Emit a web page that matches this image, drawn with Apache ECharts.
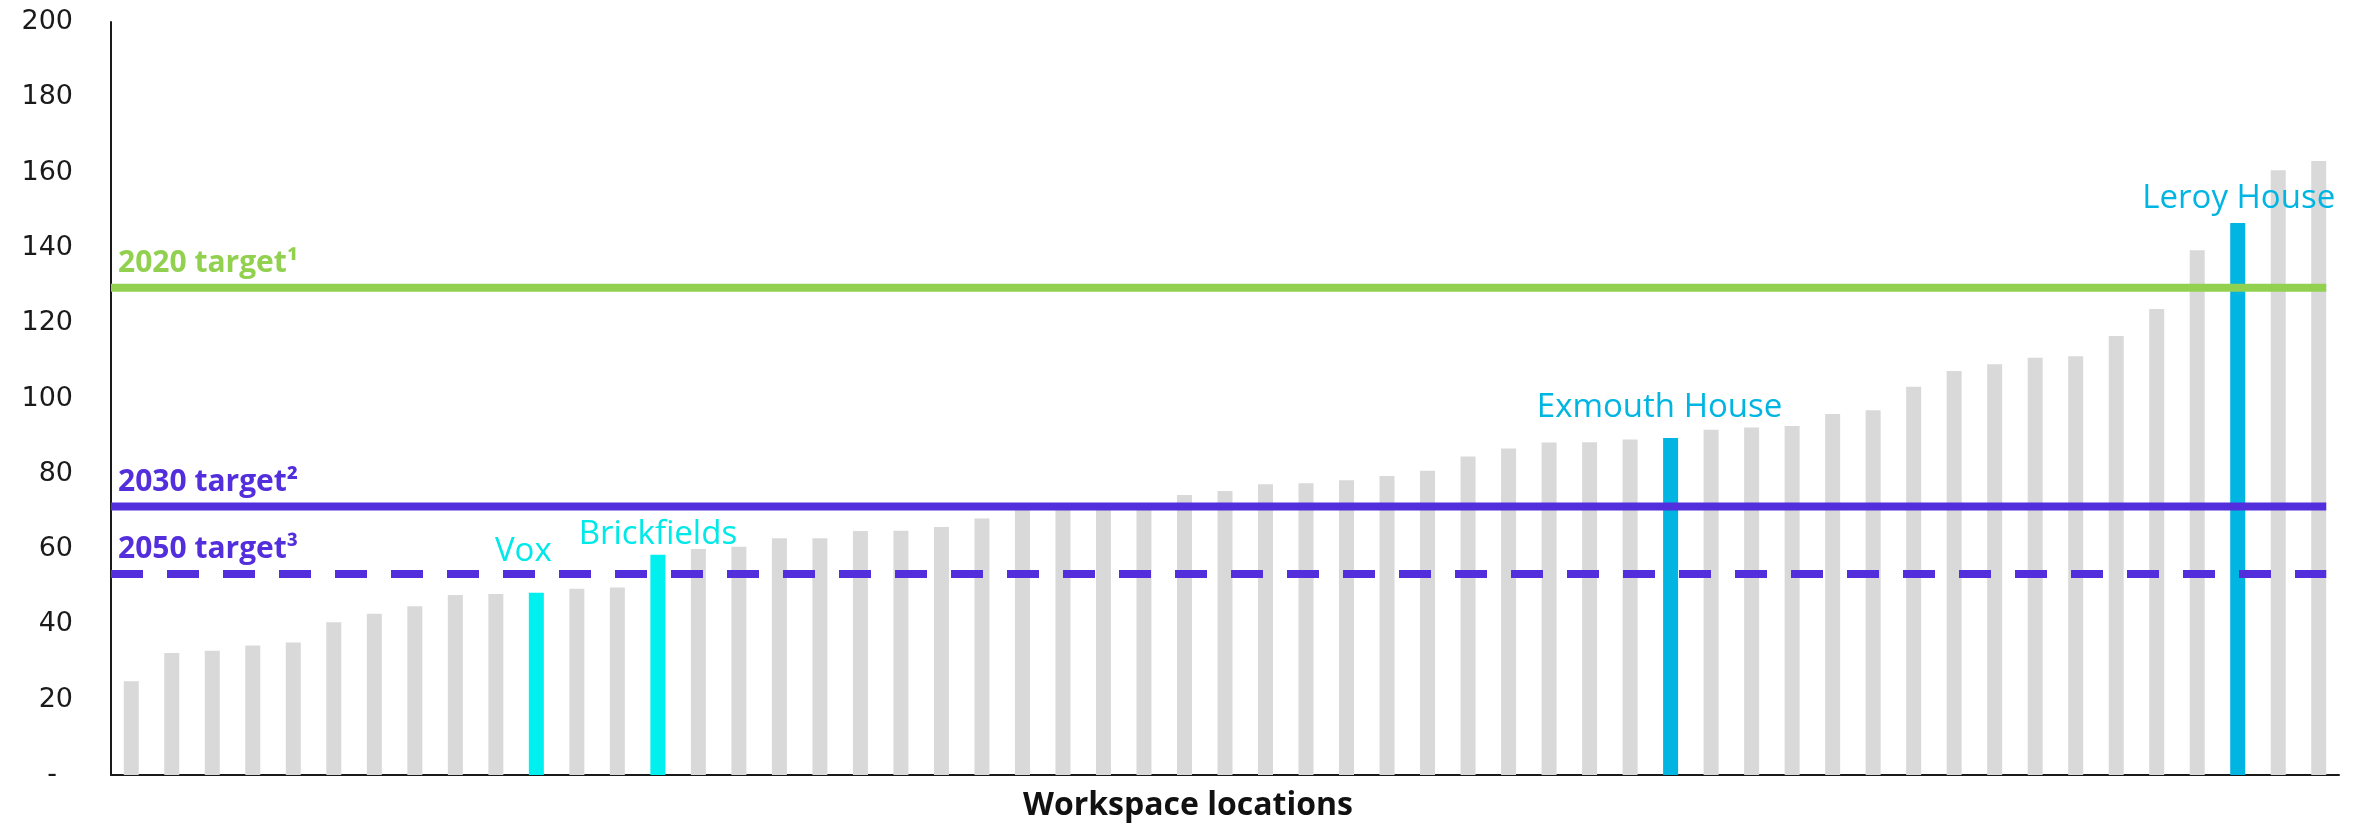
<!DOCTYPE html>
<html>
<head>
<meta charset="utf-8">
<title>Workspace locations</title>
<script src="https://cdn.jsdelivr.net/npm/echarts@6/dist/echarts.min.js"></script>
<style>
  html, body { margin: 0; padding: 0; background: #ffffff; }
  #chart { width: 2369px; height: 825px; }
</style>
</head>
<body>
<div id="chart"></div>
<script>
// Workspace locations, sorted from lowest to highest intensity
const CATEGORIES = [
  'Site 1', 'Site 2', 'Site 3', 'Site 4', 'Site 5', 'Site 6', 'Site 7', 'Site 8', 'Site 9', 'Site 10',
  'Vox', 'Site 12', 'Site 13', 'Brickfields', 'Site 15', 'Site 16', 'Site 17', 'Site 18', 'Site 19', 'Site 20',
  'Site 21', 'Site 22', 'Site 23', 'Site 24', 'Site 25', 'Site 26', 'Site 27', 'Site 28', 'Site 29', 'Site 30',
  'Site 31', 'Site 32', 'Site 33', 'Site 34', 'Site 35', 'Site 36', 'Site 37', 'Site 38', 'Exmouth House', 'Site 40',
  'Site 41', 'Site 42', 'Site 43', 'Site 44', 'Site 45', 'Site 46', 'Site 47', 'Site 48', 'Site 49', 'Site 50',
  'Site 51', 'Site 52', 'Leroy House', 'Site 54', 'Site 55'
];
const VALUES = [
  24.9, 32.4, 33.0, 34.4, 35.2, 40.6, 42.8, 44.8, 47.8, 48.1,
  48.4, 49.5, 49.8, 58.5, 60.0, 60.6, 62.9, 62.9, 64.8, 64.9,
  65.9, 68.1, 70.8, 71.0, 71.3, 72.0, 74.4, 75.4, 77.2, 77.5,
  78.3, 79.4, 80.8, 84.6, 86.7, 88.3, 88.4, 89.1, 89.5, 91.7,
  92.3, 92.7, 95.9, 96.9, 103.1, 107.3, 109.1, 110.8, 111.2, 116.6,
  123.8, 139.4, 146.6, 160.6, 163.1
];
const TARGET_NAMES = ['2020 target¹', '2030 target²', '2050 target³'];
const TARGET_VALUES = [129.4, 71.3, 53.4];
const Y_MIN = 0;
const Y_MAX = 200;
const Y_STEP = 20;
const X_TITLE = 'Workspace locations';

// Styling
const FONT = '"Open Sans", "DejaVu Sans", sans-serif';
const TICK_FONT = '"DejaVu Sans", sans-serif';
const CHART_W = 2369;
const GRID = { left: 111, right: 30, top: 22, bottom: 50 };
const BAR_WIDTH = 15;
const BAR_COLOR = '#D9D9D9';
const TARGET_STYLE = [
  { color: '#92D050', dash: 'solid' },
  { color: '#532EDD', dash: 'solid' },
  { color: '#532EDD', dash: [32, 24] }
];
const HIGHLIGHT_STYLE = {
  'Vox':           { bar: '#00F0F0', text: '#00E8E8', dx: -13, distance: 25 },
  'Brickfields':   { bar: '#00F0F0', text: '#00E8E8', dx: 0,   distance: 4 },
  'Exmouth House': { bar: '#00B5E2', text: '#00B5E2', dx: -11, distance: 14 },
  'Leroy House':   { bar: '#00B5E2', text: '#00B5E2', dx: 1,   distance: 8 }
};

// Target lines run from the y axis to the right edge of the last bar
const n = CATEGORIES.length;
const bandPx = (CHART_W - GRID.left - GRID.right) / n;
const targetEnd = n - 0.5 + (BAR_WIDTH / 2) / bandPx;

const barData = VALUES.map((v, i) => {
  const name = CATEGORIES[i];
  const h = HIGHLIGHT_STYLE[name];
  if (!h) return v;
  return {
    value: v,
    itemStyle: { color: h.bar },
    label: {
      show: true,
      position: 'top',
      distance: h.distance,
      offset: [h.dx, 0],
      color: h.text,
      fontFamily: FONT,
      fontSize: 33,
      fontWeight: 'normal',
      formatter: name
    }
  };
});

const targetSeries = TARGET_VALUES.map((v, i) => ({
  type: 'line',
  name: TARGET_NAMES[i],
  xAxisIndex: 1,
  yAxisIndex: 0,
  data: [[0, v], [targetEnd, v]],
  symbol: 'circle',
  symbolSize: 0.01,
  showSymbol: true,
  itemStyle: { color: TARGET_STYLE[i].color },
  lineStyle: { color: TARGET_STYLE[i].color, width: 8, type: TARGET_STYLE[i].dash, cap: 'butt' },
  label: {
    show: true,
    position: 'top',
    align: 'left',
    distance: 9,
    offset: [7, 0],
    color: TARGET_STYLE[i].color,
    fontFamily: FONT,
    fontSize: 30,
    fontWeight: 'bold',
    formatter: p => (p.dataIndex === 0 ? TARGET_NAMES[i] : '')
  },
  silent: true,
  z: 3
}));

const chart = echarts.init(document.getElementById('chart'), null, { renderer: 'canvas' });
chart.setOption({
  animation: false,
  backgroundColor: '#ffffff',
  title: {
    text: X_TITLE,
    left: 1183,
    top: 785,
    textAlign: 'center',
    textStyle: { fontFamily: FONT, fontSize: 32, fontWeight: 'bold', color: '#111111' }
  },
  grid: GRID,
  xAxis: [
    {
      type: 'category',
      data: CATEGORIES,
      boundaryGap: true,
      axisLine: { show: true, lineStyle: { color: '#1a1a1a', width: 2 } },
      axisTick: { show: false },
      axisLabel: { show: false },
      splitLine: { show: false }
    },
    {
      type: 'value',
      min: 0,
      max: n,
      show: false
    }
  ],
  yAxis: {
    type: 'value',
    min: Y_MIN,
    max: Y_MAX,
    interval: Y_STEP,
    axisLine: { show: true, lineStyle: { color: '#1a1a1a', width: 2 } },
    axisTick: { show: false },
    splitLine: { show: false },
    axisLabel: {
      margin: 38,
      color: '#1a1a1a',
      fontFamily: TICK_FONT,
      fontSize: 27,
      formatter: v => (v === 0 ? '{dash|-}' : String(v)),
      rich: { dash: { fontFamily: TICK_FONT, fontSize: 27, color: '#1a1a1a', padding: [0, 16, 0, 0] } }
    }
  },
  series: [
    {
      type: 'bar',
      data: barData,
      barWidth: BAR_WIDTH,
      itemStyle: { color: BAR_COLOR },
      z: 2
    },
    ...targetSeries
  ]
});
</script>
</body>
</html>
